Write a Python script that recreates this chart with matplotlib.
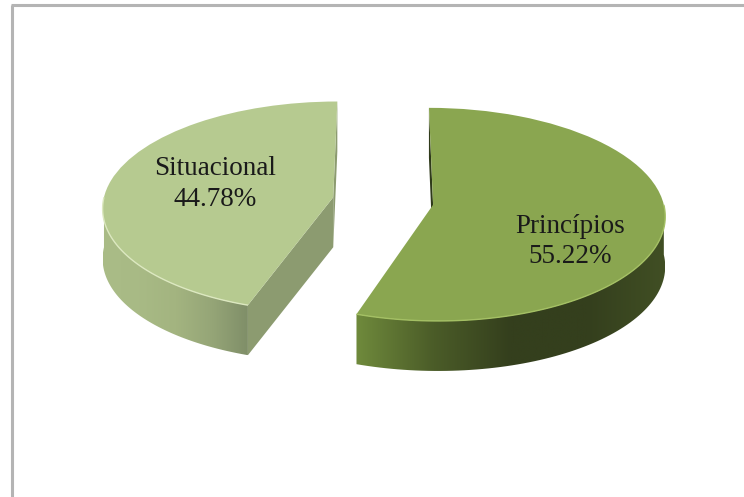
import numpy as np
import matplotlib
matplotlib.use("Agg")
import matplotlib.pyplot as plt
from matplotlib.colors import LinearSegmentedColormap
from matplotlib.patches import Polygon
from matplotlib.transforms import Transform

labels = ["Princípios", "Situacional"]
shares = [55.22, 44.78]
top_colors = ["#8aa650", "#b6ca90"]
edge_colors = ["#a4c064", "#dce8c0"]
cut_colors = ["#2f3a1a", "#8c9b70"]
wall_colors = [["#6f8a3c", "#4b5c28", "#343f1d", "#343f1d", "#414f24"],
               ["#aabc87", "#a8ba85", "#a3b480", "#95a577", "#7f8e68"]]
label_pos = [(570, 241.5), (215, 184)]

DEPTH = 50


class Tilt(Transform):
    """Pie plane to pixels, with a bit of perspective"""
    input_dims = 2
    output_dims = 2

    def transform_non_affine(self, values):
        values = np.asarray(values)
        w = 1 + 0.09 * values[:, 1]
        return np.column_stack([383 + 230 * values[:, 0] / w,
                                201 - 105 * values[:, 1] / w])


fig = plt.figure(figsize=(7.44, 4.97), dpi=100)
ax = fig.add_axes([0, 0, 1, 1])
tilt = Tilt()

wedges, _ = ax.pie(shares, explode=[0.22, 0.22], startangle=90,
                   counterclock=False, colors=top_colors, radius=1)
ax.set_aspect("auto")


def arc(wedge, a, b):
    t = np.radians(np.linspace(a, b, 80))
    cx, cy = wedge.center
    pts = np.column_stack([cx + wedge.r * np.cos(t), cy + wedge.r * np.sin(t)])
    return tilt.transform(pts)


def gradient_fill(outline, colors, zorder):
    cmap = LinearSegmentedColormap.from_list("wall", colors)
    x0, x1 = outline[:, 0].min(), outline[:, 0].max()
    y0, y1 = outline[:, 1].min(), outline[:, 1].max()
    im = ax.imshow(np.linspace(0, 1, 256)[None, :], cmap=cmap, aspect="auto",
                   extent=[x0, x1, y1, y0], zorder=zorder)
    patch = Polygon(outline, closed=True, transform=ax.transData,
                    fill=False, edgecolor="none")
    ax.add_patch(patch)
    im.set_clip_path(patch)


def extrude(p, q):
    return np.array([p, q, q + [0, DEPTH], p + [0, DEPTH]])


for i, w in enumerate(wedges):
    apex = tilt.transform([w.center])[0]
    # only the lower half of the rim shows, and the cut that faces the viewer
    if i == 0:
        front = arc(w, w.theta1, 0)
        top_end = arc(w, w.theta2, w.theta2)[0]
        cuts = [extrude(top_end, apex)]
    else:
        front = arc(w, -180, w.theta2)
        top_end = arc(w, w.theta1, w.theta1)[0]
        cuts = [extrude(top_end, apex), extrude(front[-1], apex)]
    rim = np.vstack([front, (front + [0, DEPTH])[::-1]])
    gradient_fill(rim, wall_colors[i], zorder=1)
    for cut in cuts:
        ax.add_patch(Polygon(cut, color=cut_colors[i], lw=0, zorder=1))

    w.set_transform(tilt + ax.transData)
    w.set_zorder(2)
    ax.plot(front[:, 0], front[:, 1], color=edge_colors[i], lw=1, zorder=3,
            solid_capstyle="butt")
    ax.text(label_pos[i][0], label_pos[i][1],
            "%s\n%.2f%%" % (labels[i], shares[i]), ha="center", va="center",
            family="Liberation Serif", fontsize=19.5, linespacing=1.3,
            color="#1a1a1a", zorder=4)

# chart frame, it runs off the picture on the right and at the bottom
ax.plot([12, 12], [497, 5], color="#b4b4b4", lw=2.2, solid_capstyle="butt", zorder=5)
ax.plot([11, 744], [5, 5], color="#b4b4b4", lw=2.2, solid_capstyle="butt", zorder=5)

ax.set_xlim(0, 744)
ax.set_ylim(497, 0)
ax.axis("off")

fig.savefig("out.png", dpi=100)
